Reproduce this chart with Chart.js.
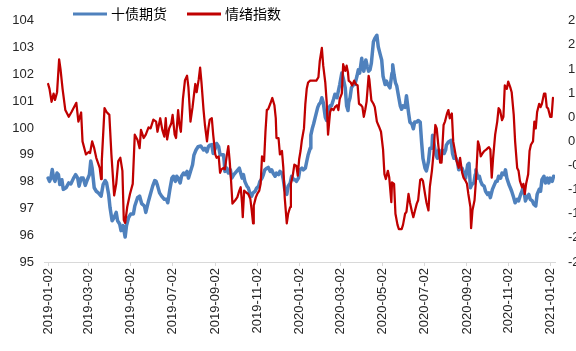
<!DOCTYPE html>
<html>
<head>
<meta charset="utf-8">
<script src="https://cdn.jsdelivr.net/npm/chart.js@4.4.1/dist/chart.umd.min.js"></script>
<style>
html,body{margin:0;padding:0;overflow:hidden;background:#fff;}
#wrap{width:600px;height:351px;}
</style>
</head>
<body>
<div id="wrap"><canvas id="c" width="600" height="351"></canvas></div>
<script>
// Series names
const seriesNames = ['十债期货', '情绪指数'];

// X-axis tick labels (dates)
const tickDates = ['2019-01-02','2019-03-02','2019-05-02','2019-07-02','2019-09-02','2019-11-02',
  '2020-01-02','2020-03-02','2020-05-02','2020-07-02','2020-09-02','2020-11-02','2021-01-02'];

// 十债期货 (left axis): day offset from 2019-01-02, value
const bondDays = [
  0,2,4,6,8,10,13,15,17,20,
  22,26,30,33,37,40,43,45,48,51,
  54,57,60,62,64,67,70,73,77,80,
  83,85,88,90,93,96,99,101,104,106,
  109,112,114,117,120,124,126,130,133,136,
  140,142,146,148,152,155,157,159,162,165,
  169,172,174,177,180,182,185,187,189,192,
  194,197,199,202,204,207,210,212,215,218,
  222,226,228,231,233,235,238,240,243,245,
  248,250,255,256,257,260,262,265,267,270,
  274,278,282,284,286,289,291,294,296,298,
  301,303,306,308,311,313,315,318,320,323,
  325,327,330,332,335,337,340,342,344,347,
  349,352,354,357,359,361,364,366,369,371,
  374,376,378,381,382,384,386,389,392,394,
  396,398,400,403,405,407,410,412,415,417,
  420,422,424,427,429,432,434,436,437,439,
  441,444,446,449,451,453,456,457,459,462,
  464,466,468,470,473,475,478,480,483,485,
  487,490,492,494,497,500,501,503,505,507,
  509,512,514,516,519,521,524,526,529,531,
  533,536,538,541,543,545,548,550,553,555,
  558,559,561,564,566,568,571,573,576,578,
  579,582,586,588,590,592,595,597,600,602,
  605,607,610,612,614,616,619,621,622,625,
  627,629,631,634,636,639,641,643,646,648,
  651,653,655,658,660,663,665,667,670,672,
  674,677,679,682,684,687,689,691,694,696,
  699,701,704,706,709,711,714,716,718,721,
  723,726,728,730,733,735];
const bondValues = [
  98.13,98.01,98.13,98.45,98.13,98.01,98.32,98.26,97.89,98.07,
  97.71,97.77,97.95,97.91,98.13,98.26,98.13,97.83,98.13,98.13,
  97.86,98.07,98.26,98.77,98.50,97.77,97.64,97.58,97.46,97.89,
  98.04,97.95,97.52,97.03,96.54,96.66,96.85,96.54,96.42,96.17,
  96.36,95.93,96.36,96.66,96.79,96.79,97.09,97.40,97.46,97.18,
  97.09,96.85,97.28,97.46,97.83,98.04,98.01,97.86,97.58,97.46,
  97.34,97.34,97.21,97.71,98.13,98.20,98.01,98.20,98.13,97.95,
  98.20,98.32,98.26,98.38,98.13,98.38,98.63,98.99,99.18,99.30,
  99.33,99.18,99.24,99.11,99.30,99.36,99.38,99.05,99.24,99.42,
  99.30,99.00,99.00,98.75,98.38,98.50,98.32,98.44,98.13,98.26,
  98.38,98.50,98.13,98.26,98.01,97.83,97.77,97.52,97.46,97.58,
  97.64,97.75,97.83,98.01,98.13,98.26,98.44,98.50,98.53,98.38,
  98.44,98.32,98.20,98.32,98.26,98.38,98.32,98.07,97.71,97.52,
  97.83,97.95,98.20,98.07,98.07,98.01,98.13,98.44,98.50,98.44,
  98.50,98.75,98.99,99.24,99.73,99.97,100.15,100.46,100.77,100.89,
  100.95,101.13,100.95,100.40,100.28,100.65,100.83,100.83,101.07,101.26,
  101.13,101.38,101.62,102.05,101.87,101.50,100.83,100.65,100.95,101.13,
  101.50,101.62,101.62,101.93,102.17,102.05,102.60,102.30,102.12,102.54,
  102.30,102.12,102.17,102.42,103.22,103.34,103.46,103.03,102.73,102.54,
  101.93,101.62,101.75,101.62,101.50,102.05,102.36,101.99,101.69,101.56,
  101.26,100.83,100.70,100.83,100.77,101.20,100.58,100.22,100.15,99.97,
  100.22,100.22,100.28,100.22,99.48,98.87,98.50,98.40,98.75,99.24,
  99.24,99.73,99.42,98.99,98.87,99.18,98.81,99.18,99.05,99.18,
  99.36,99.48,99.54,99.05,98.87,98.93,98.75,98.44,98.50,98.50,
  98.26,98.13,98.63,98.68,97.77,97.89,97.95,98.26,98.44,98.13,
  98.20,98.01,97.89,97.83,97.64,97.52,97.58,97.40,97.71,97.83,
  98.01,98.01,98.20,98.13,98.32,98.26,98.44,98.13,97.89,97.77,
  97.64,97.40,97.21,97.34,97.28,97.52,97.64,97.83,97.28,97.40,
  97.52,97.34,97.28,97.16,97.09,97.52,97.71,97.64,98.07,98.20,
  97.95,98.13,97.95,98.13,98.01,98.20];

// 情绪指数 (right axis): day offset from 2019-01-02, value
const sentDays = [
  0,2,5,8,10,13,16,18,21,25,
  30,34,41,44,48,50,55,59,61,64,
  67,70,75,77,78,82,85,89,92,96,
  99,102,105,108,110,112,115,119,123,126,
  130,133,135,139,142,146,149,153,157,159,
  163,166,169,171,173,176,179,181,184,186,
  189,191,193,196,199,202,204,207,210,212,
  214,216,219,221,223,226,228,231,233,235,
  238,240,243,245,248,250,252,255,257,260,
  262,264,266,268,272,275,278,280,282,283,
  285,288,291,294,296,298,299,302,304,307,
  309,311,314,316,318,320,323,326,329,331,
  332,335,337,340,342,344,347,349,352,353,
  356,358,361,363,365,367,369,372,374,376,
  378,381,386,390,393,395,398,400,403,405,
  407,410,412,415,417,420,422,424,427,429,
  432,434,436,437,440,442,445,447,450,452,
  455,457,459,461,463,466,467,470,473,475,
  478,481,484,487,489,491,494,496,499,500,
  503,505,508,510,514,516,519,521,524,526,
  529,531,533,536,538,541,543,545,548,550,
  553,555,558,560,563,565,567,570,572,575,
  577,580,582,584,587,589,592,594,597,599,
  602,604,607,609,611,614,615,617,620,622,
  625,627,629,632,634,637,639,641,643,645,
  647,650,653,655,657,660,662,664,667,669,
  672,674,677,679,682,684,686,689,691,693,
  695,698,700,702,705,707,709,711,714,716,
  718,721,723,725,727,730,732,734];
const sentValues = [
  1.19,1.09,0.82,0.99,0.86,1.02,1.70,1.50,1.09,0.65,
  0.51,0.61,0.80,0.41,0.60,0.00,-0.27,-0.22,-0.24,0.00,
  -0.14,-0.34,-0.55,-0.78,-0.41,0.69,0.61,0.55,-0.27,-1.12,
  -0.88,-0.41,-0.34,-0.61,-1.63,-1.69,-1.36,-1.09,-0.88,0.14,
  0.03,-0.14,0.24,0.07,0.14,0.29,0.27,0.45,0.41,0.20,
  0.48,0.24,0.10,0.48,0.04,0.27,0.37,0.55,0.14,0.07,
  0.65,0.34,0.20,0.88,1.27,1.36,1.12,0.41,0.71,0.96,
  1.19,1.02,1.29,1.53,1.22,0.65,0.34,0.00,0.27,0.45,
  0.48,0.14,-0.27,-0.34,-0.31,-0.65,-0.58,-0.55,-0.58,-0.27,
  -0.10,-0.41,-0.82,-1.29,-1.22,-1.16,-1.02,-0.95,-1.29,-1.57,
  -1.02,-1.06,-1.09,-1.19,-1.43,-1.70,-1.33,-1.16,-1.09,-1.02,
  -0.88,-0.31,-0.41,0.20,0.65,0.67,0.78,0.90,0.75,0.48,
  0.07,0.07,-0.27,-0.20,-0.55,-1.16,-1.70,-1.50,-1.36,-0.88,
  -0.68,-0.48,-0.51,-0.71,-0.37,-0.20,0.03,0.27,0.78,1.09,
  1.22,1.26,1.26,1.26,1.33,1.67,1.94,1.57,1.22,0.82,
  0.14,0.61,0.68,0.65,0.71,0.75,0.65,0.88,0.99,1.60,
  1.46,1.57,1.43,1.26,1.22,1.16,1.26,1.19,1.16,0.78,
  0.75,0.71,0.51,0.65,0.82,1.36,1.29,0.85,0.78,0.71,
  0.41,0.31,0.20,-0.17,-0.68,-0.78,-0.61,-0.75,-1.26,-0.85,
  -0.88,-1.50,-1.73,-1.82,-1.82,-1.73,-1.50,-1.46,-1.09,-1.26,
  -1.46,-1.57,-1.46,-1.29,-1.22,-0.80,-0.78,-0.82,-1.09,-1.26,
  -1.43,-0.95,-0.61,-0.31,0.34,0.27,-0.03,-0.44,-0.44,0.34,
  0.41,0.58,0.65,0.48,0.58,0.00,-0.24,-0.41,-0.55,-0.34,
  -0.65,-0.75,-0.82,-0.88,-1.09,-1.36,-1.80,-1.43,-1.22,-0.82,
  0.00,-0.10,-0.31,-0.24,-0.20,-0.17,-0.14,-0.12,-0.17,-0.75,
  -0.34,0.14,0.41,0.69,0.65,0.44,0.51,1.16,1.09,1.24,
  1.12,1.02,0.55,0.00,-0.55,-0.61,-0.82,-0.95,-0.88,-1.09,
  -0.88,-0.68,-0.20,-0.07,0.00,0.41,0.27,0.61,0.78,0.71,
  0.78,0.99,0.99,0.71,0.68,0.51,0.51,0.90];

// ---- build ----
const DAY0 = Date.UTC(2019, 0, 2);
function dayOf(s) {
  const p = s.split('-').map(Number);
  return Math.round((Date.UTC(p[0], p[1] - 1, p[2]) - DAY0) / 86400000);
}
const tickDays = tickDates.map(dayOf);
const labelByDay = {};
tickDates.forEach((d, i) => { labelByDay[tickDays[i]] = d; });

const bondData = bondDays.map((d, i) => ({ x: d, y: bondValues[i] }));
const sentData = sentDays.map((d, i) => ({ x: d, y: sentValues[i] }));

const FONT = '"Liberation Sans", Arial, sans-serif';
const TXT = '#262626';

const legendPlugin = {
  id: 'topLegend',
  afterDraw(chart) {
    const ctx = chart.ctx;
    ctx.save();
    ctx.font = '14px "Noto Sans CJK SC", sans-serif';
    ctx.textBaseline = 'middle';
    let x = 73; const y = 14;
    chart.data.datasets.forEach(ds => {
      ctx.strokeStyle = ds.borderColor;
      ctx.lineWidth = 3;
      ctx.beginPath(); ctx.moveTo(x, y); ctx.lineTo(x + 34, y); ctx.stroke();
      x += 38;
      ctx.fillStyle = '#000';
      ctx.fillText(ds.label, x, y);
      x += ctx.measureText(ds.label).width + 20;
    });
    ctx.restore();
  }
};

new Chart(document.getElementById('c'), {
  type: 'line',
  data: {
    datasets: [
      { label: seriesNames[0], data: bondData, yAxisID: 'y', borderColor: '#4f81bd',
        borderWidth: 3.5, pointRadius: 0, tension: 0, order: 2,
        borderJoinStyle: 'round', borderCapStyle: 'round' },
      { label: seriesNames[1], data: sentData, yAxisID: 'y1', borderColor: '#c00000',
        borderWidth: 2.25, pointRadius: 0, tension: 0, order: 1,
        borderJoinStyle: 'round', borderCapStyle: 'round' }
    ]
  },
  options: {
    responsive: false,
    animation: false,
    devicePixelRatio: 1,
    layout: { padding: { top: 17, left: 0, right: 0, bottom: 0 } },
    plugins: { legend: { display: false }, tooltip: { enabled: false } },
    scales: {
      x: {
        type: 'linear', min: -6, max: 737,
        afterBuildTicks: s => { s.ticks = tickDays.map(v => ({ value: v })); },
        afterFit: s => { s.height = 89; },
        grid: { display: true, drawOnChartArea: false, drawTicks: true, tickLength: 4, color: '#d9d9d9' },
        border: { display: true, color: '#d9d9d9', width: 1 },
        ticks: { autoSkip: false, minRotation: 90, maxRotation: 90, padding: 2, color: TXT,
          font: { family: FONT, size: 13 },
          callback: v => (labelByDay[v] !== undefined ? labelByDay[v] : '') }
      },
      y: {
        position: 'left', min: 95, max: 104,
        afterFit: s => { s.width = 44; },
        grid: { display: false, drawTicks: false },
        border: { display: false },
        ticks: { stepSize: 1, padding: 10, color: TXT, font: { family: FONT, size: 13 } }
      },
      y1: {
        position: 'right', min: -2.5, max: 2.5,
        afterFit: s => { s.width = 45; },
        grid: { display: false, drawTicks: false },
        border: { display: false },
        ticks: { stepSize: 0.5, padding: 13, color: TXT, font: { family: FONT, size: 13 } }
      }
    }
  },
  plugins: [legendPlugin]
});
</script>
</body>
</html>
